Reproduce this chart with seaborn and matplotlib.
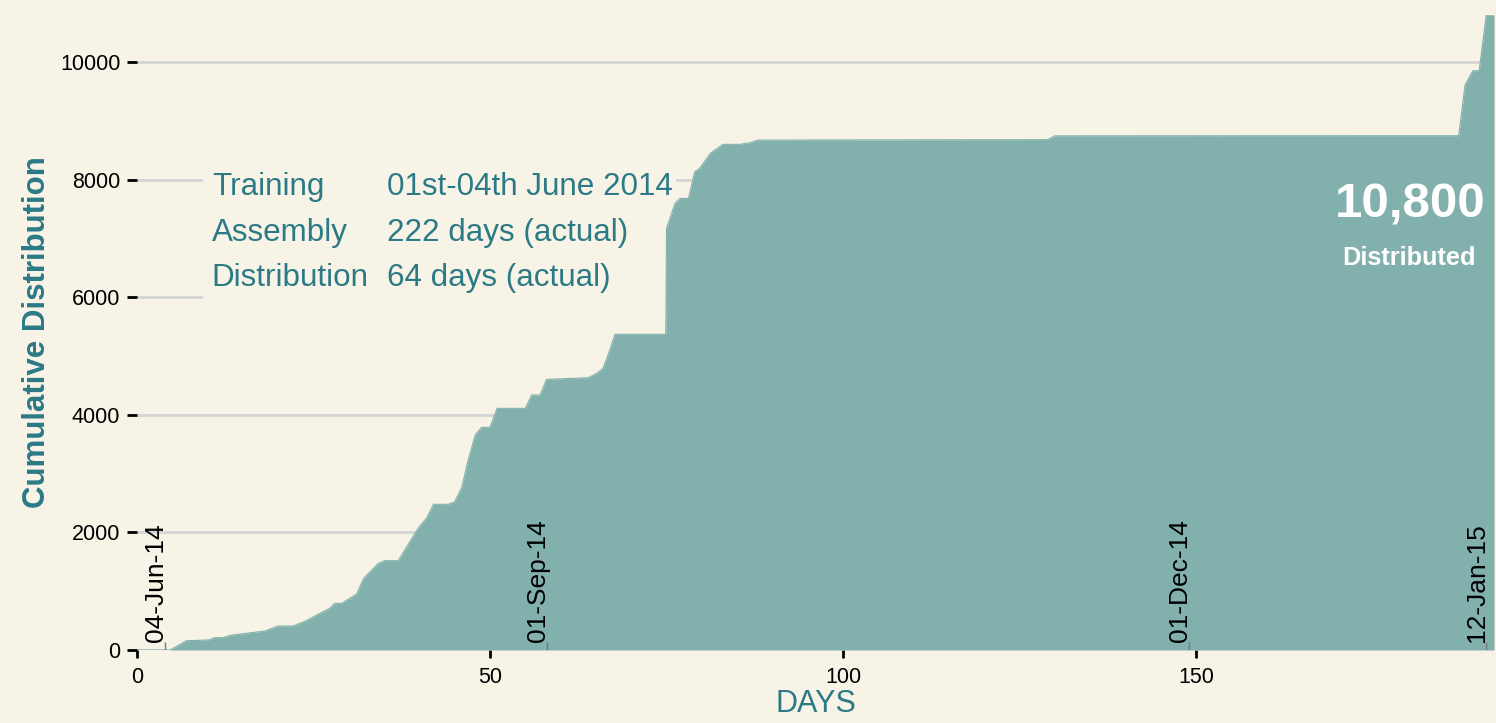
import numpy as np
import pandas as pd
import matplotlib
matplotlib.use("Agg")
import matplotlib.pyplot as plt
import seaborn as sns
from matplotlib.patches import Rectangle

# cumulative distribution (day, units)
days = [0, 4.7, 7.0, 10.1, 11.0, 12.2, 13.2, 18.1, 20.0, 22.1, 24.0, 25.9, 27.3, 28.0,
        29.0, 31.1, 32.1, 34.2, 35.1, 37.0, 39.9, 41.0, 42.0, 44.1, 45.0, 46.0, 46.9,
        47.9, 48.8, 50.0, 51.0, 55.0, 55.9, 57.1, 58.0, 63.9, 65.1, 66.0, 66.8, 67.7,
        74.9, 75.0, 76.2, 76.9, 78.1, 79.0, 79.7, 81.2, 83.0, 85.4, 86.8, 88.0, 129.0,
        130.0, 187.2, 188.1, 189.2, 190.1, 191.1, 192.2]
cumulative = [0, 0, 158, 170, 210, 210, 250, 323, 408, 408, 500, 624, 709, 794,
              794, 952, 1219, 1474, 1519, 1519, 2087, 2240, 2478, 2478, 2522, 2767, 3231,
              3656, 3787, 3787, 4110, 4110, 4337, 4337, 4603, 4631, 4705, 4790, 5045, 5369,
              5369, 7171, 7596, 7681, 7681, 8134, 8192, 8447, 8600, 8600, 8627, 8673, 8680,
              8745, 8747, 9609, 9852, 9852, 10800, 10800]

# date markers along the day axis
marker_days = [4, 58, 149, 191.1]
marker_labels = ["04-Jun-14", "01-Sep-14", "01-Dec-14", "12-Jan-15"]

info_names = ["Training", "Assembly", "Distribution"]
info_values = ["01st-04th June 2014", "222 days (actual)", "64 days (actual)"]

total = 10800

BG = "#F7F3E6"
AREA = "#82B1AD"
TEAL = "#2B7A85"
GRID = "#D4D4D4"

sns.set_theme(style="white", rc={"figure.facecolor": BG, "axes.facecolor": BG})
plt.rcParams["font.family"] = ["Liberation Sans", "DejaVu Sans"]

df = pd.DataFrame({"day": days, "cum": cumulative})

fig = plt.figure(figsize=(14.96, 7.23), dpi=100)
ax = fig.add_axes([137 / 1496, 1 - 650 / 723, 1357 / 1496, 635 / 723])

# horizontal gridlines under everything
for yv in range(0, 10001, 2000):
    ax.axhline(yv, color=GRID, lw=2, zorder=0)

# background box behind the info text, hides the gridlines there
ax.add_patch(Rectangle((9.35, 5800), 76.4 - 9.35, 8350 - 5800,
                       facecolor=BG, edgecolor="none", zorder=1))

ax.fill_between(df["day"], df["cum"], color=AREA, lw=0, zorder=2)
sns.lineplot(data=df, x="day", y="cum", ax=ax, color=AREA, lw=0.8, zorder=2)

# date markers
for d, lab in zip(marker_days, marker_labels):
    ax.vlines(d, 0, 140, color="#777777", lw=1, zorder=3)
    ax.text(d + 0.45, 140, lab, rotation=90, ha="right", va="bottom",
            fontsize=19, color="black", zorder=4)

# info block
row_y = [7874, 7092, 6327]
for name, val, yv in zip(info_names, info_values, row_y):
    ax.text(10.6, yv, name, fontsize=22.6, color=TEAL, va="center", ha="left", zorder=4)
    ax.text(35.4, yv, val, fontsize=22.6, color=TEAL, va="center", ha="left", zorder=4)

ax.text(180.3, 7568, f"{total:,}", fontsize=35.5, fontweight="bold", color="white",
        ha="center", va="center", zorder=4)
ax.text(180.1, 6667, "Distributed", fontsize=18.3, fontweight="bold", color="white",
        ha="center", va="center", zorder=4)

ax.set_xlim(0, 192.2)
ax.set_ylim(0, 10800)
ax.set_xticks([0, 50, 100, 150])
ax.set_yticks(range(0, 10001, 2000))
ax.tick_params(axis="y", length=7, width=2, color="black", pad=5, labelsize=15.5,
               labelcolor="black", left=True)
ax.tick_params(axis="x", length=6, width=2, color="black", pad=6, labelsize=15.5,
               labelcolor="black", bottom=True)
for s in ax.spines.values():
    s.set_visible(False)

ax.set_ylabel("Cumulative Distribution", fontsize=22.5, fontweight="bold", color=TEAL)
ax.yaxis.set_label_coords(-0.0625, 0.5)
ax.set_xlabel("DAYS", fontsize=22, color=TEAL)
ax.xaxis.set_label_coords(0.5, -0.062)

fig.savefig("out.png", dpi=100, facecolor=BG)
